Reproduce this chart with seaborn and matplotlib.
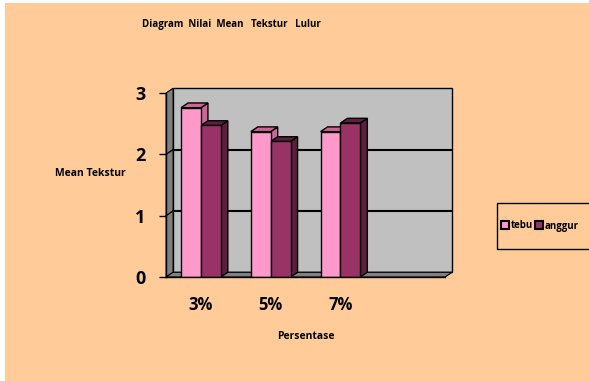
import numpy as np
import pandas as pd
import matplotlib.pyplot as plt
import matplotlib.patches as mpatches
import seaborn as sns

# data
categories = ['3%', '5%', '7%']
tebu = [2.76, 2.37, 2.37]
anggur = [2.47, 2.21, 2.51]
series = ['tebu', 'anggur']
colors = ['#FF99CC', '#993366']
side_colors = ['#CC6699', '#5C1F3D']

df = pd.DataFrame({
    'Persentase': categories * 2,
    'Mean': tebu + anggur,
    'Jenis': ['tebu'] * 3 + ['anggur'] * 3,
})

sns.set_style('white')
plt.rcParams['font.family'] = ['Open Sans', 'DejaVu Sans']
plt.rcParams['text.color'] = 'black'
plt.rcParams['axes.labelcolor'] = 'black'
plt.rcParams['xtick.color'] = 'black'
plt.rcParams['ytick.color'] = 'black'

fig = plt.figure(figsize=(5.89, 3.81), dpi=100)
fig.patch.set_facecolor('white')
fig.patches.append(mpatches.Rectangle((5 / 589, 0), 1, 1 - 3 / 381, transform=fig.transFigure,
                                      facecolor='#FFCC99', edgecolor='none', zorder=-10))

ax = fig.add_axes([0.282, 0.273, 0.4737, 0.483])
ax.set_facecolor('none')

sns.barplot(data=df, x='Persentase', y='Mean', hue='Jenis', order=categories,
            hue_order=series, palette=colors, saturation=1, width=0.57, edgecolor='black',
            linewidth=1.0, ax=ax, legend=False, zorder=5)

x0, x1 = -0.5, 3.5
ax.set_xlim(x0, x1)
ax.set_ylim(0, 3)
dx, dy = 0.1, 0.077

# back wall, left wall and floor for the 3D look
ax.add_patch(mpatches.Rectangle((x0 + dx, dy), x1 - x0, 3, facecolor='#C0C0C0',
                                edgecolor='black', linewidth=1.0, zorder=1, clip_on=False))
ax.add_patch(mpatches.Polygon([(x0, 0), (x0 + dx, dy), (x0 + dx, 3 + dy), (x0, 3)],
                              facecolor='#808080', edgecolor='black', linewidth=0.8,
                              zorder=1.5, clip_on=False))
ax.add_patch(mpatches.Polygon([(x0, 0), (x1, 0), (x1 + dx, dy), (x0 + dx, dy)],
                              facecolor='#808080', edgecolor='black', linewidth=0.8,
                              zorder=1.5, clip_on=False))
for v in [1, 2]:
    ax.plot([x0 + dx, x1 + dx], [v + dy, v + dy], color='black', lw=1.5, zorder=2, clip_on=False)
    ax.plot([x0, x0 + dx], [v, v + dy], color='black', lw=1.0, zorder=2, clip_on=False)

# side and top faces of each bar
bars = [p for p in ax.patches if isinstance(p, mpatches.Rectangle) and 0 < p.get_width() < 1
        and p.get_height() > 0 and p.get_zorder() == 5]
for bar in bars:
    bx, bw, bh = bar.get_x(), bar.get_width(), bar.get_height()
    k = 0 if bar.get_facecolor()[0] > 0.9 else 1
    ax.add_patch(mpatches.Polygon([(bx + bw, 0), (bx + bw + dx, dy), (bx + bw + dx, bh + dy), (bx + bw, bh)],
                                  facecolor=side_colors[k], edgecolor='black', linewidth=1.0,
                                  zorder=4, clip_on=False))
    ax.add_patch(mpatches.Polygon([(bx, bh), (bx + bw, bh), (bx + bw + dx, bh + dy), (bx + dx, bh + dy)],
                                  facecolor=side_colors[k], edgecolor='black', linewidth=1.0,
                                  zorder=4, clip_on=False))

for s in ['top', 'right']:
    ax.spines[s].set_visible(False)
for s in ['left', 'bottom']:
    ax.spines[s].set_color('black')
    ax.spines[s].set_linewidth(1.0)
    ax.spines[s].set_zorder(6)

ax.set_yticks([0, 1, 2, 3])
ax.set_yticklabels(['0', '1', '2', '3'], fontsize=13, fontweight='bold')
ax.set_xticks([0, 1, 2])
ax.set_xticklabels(categories, fontsize=12, fontweight='bold')
ax.set_xticks(np.arange(x0, x1 + 0.01, 1.0), minor=True)
ax.tick_params(axis='x', which='major', length=0, pad=14)
ax.tick_params(axis='x', which='minor', length=5, width=1, color='black', direction='out')
ax.tick_params(axis='y', length=5, width=1, color='black', direction='out', pad=10, left=True)

ax.set_xlabel('Persentase', fontsize=7.5, fontweight='bold', labelpad=12)
ax.set_ylabel('')
fig.text(90 / 589, 1 - 173 / 381, 'Mean Tekstur', fontsize=7.5, fontweight='bold',
         ha='center', va='center')
fig.text(231 / 589, 1 - 25 / 381, 'Diagram  Nilai  Mean   Tekstur   Lulur', fontsize=7,
         fontweight='bold', ha='center', va='center')

# legend box runs past the right edge, like the reference
fig.patches.append(mpatches.Rectangle((497 / 589, 1 - 249 / 381), 0.3, 46 / 381,
                                      transform=fig.transFigure, facecolor='#FFCC99',
                                      edgecolor='black', linewidth=1.0, zorder=1))
handles = [mpatches.Patch(facecolor=c, edgecolor='black', linewidth=1.5) for c in colors]
leg = fig.legend(handles, series, loc='center left', bbox_to_anchor=(501 / 589, 1 - 226 / 381),
                 frameon=False, prop={'size': 7, 'weight': 'bold'}, ncol=2,
                 handlelength=0.8, handleheight=0.8, handletextpad=0.2, columnspacing=0.2,
                 borderpad=0, borderaxespad=0)

fig.savefig('out.png', dpi=100)
